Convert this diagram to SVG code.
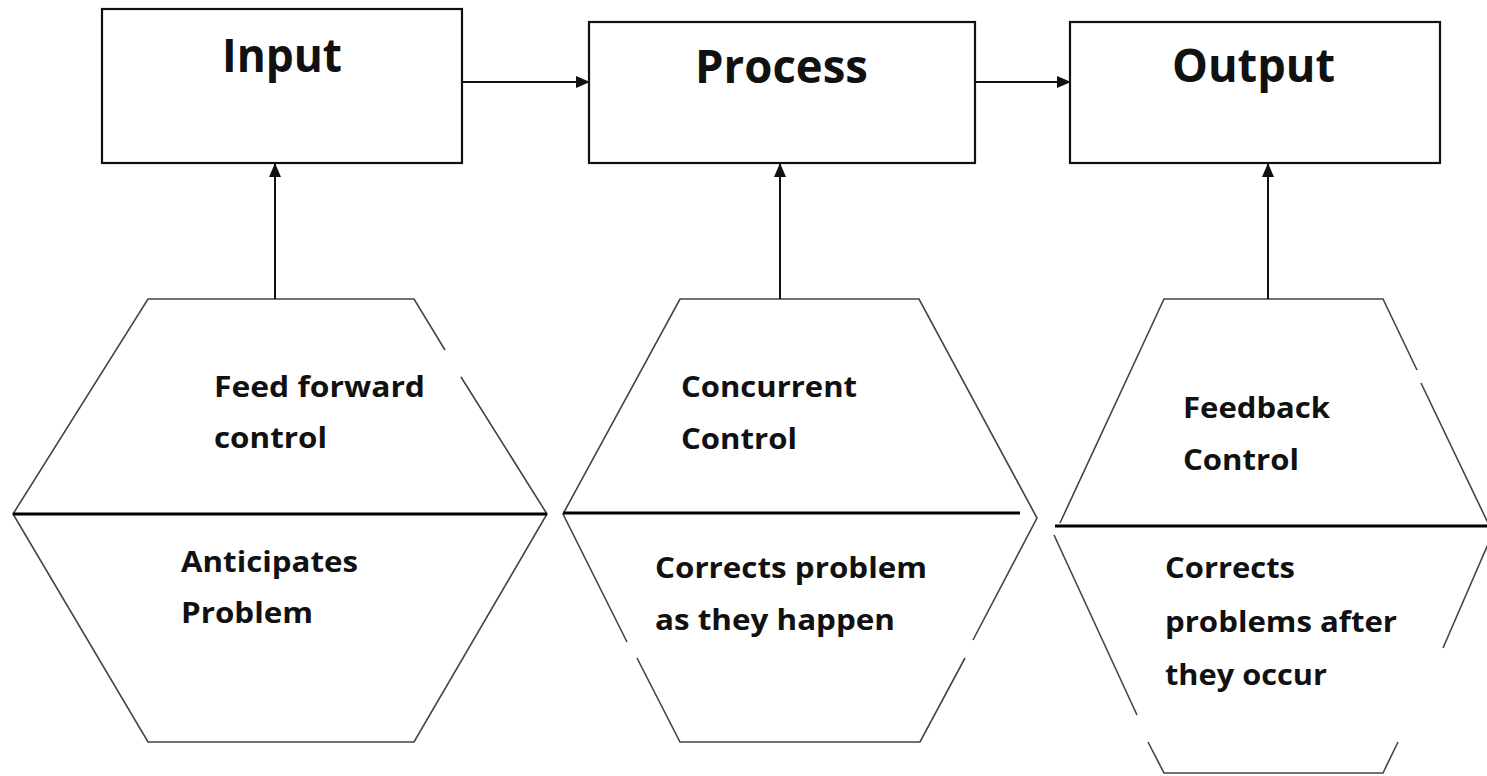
<svg xmlns="http://www.w3.org/2000/svg" width="1487" height="776" viewBox="0 0 1487 776">
<style>
.box{fill:#fff;stroke:#111;stroke-width:2.2}
.hex{fill:none;stroke:#444;stroke-width:1.6}
.mid{stroke:#000;stroke-width:3.2}
.conn{stroke:#111;stroke-width:2;fill:none}
.title{font-family:"Open Sans","Liberation Sans",sans-serif;font-weight:700;font-size:46px;fill:#111}
.lbl{font-family:"Open Sans","Liberation Sans",sans-serif;font-weight:700;font-size:28px;fill:#111}
</style>
<defs>
<marker id="ah" markerWidth="14" markerHeight="12" refX="13" refY="6" orient="auto" markerUnits="userSpaceOnUse">
<path d="M0,0 L14,6 L0,12 Z" fill="#111"/>
</marker>
</defs>
<rect width="1487" height="776" fill="#fff"/>

<g id="input">
<rect class="box" x="102" y="9" width="360" height="154"/>
<text class="title" x="222" y="72" textLength="120" lengthAdjust="spacingAndGlyphs">Input</text>
</g>
<g id="process">
<rect class="box" x="589" y="22" width="386" height="141"/>
<text class="title" x="695" y="83" textLength="173" lengthAdjust="spacingAndGlyphs">Process</text>
</g>
<g id="output">
<rect class="box" x="1070" y="22" width="370" height="141"/>
<text class="title" x="1172" y="82" textLength="163" lengthAdjust="spacingAndGlyphs">Output</text>
</g>

<g id="feedforward">
<path class="hex" d="M445,350 L414,299 L148,299 L13,514 L148,742 L414,742 L547,514 L461,377"/>
<line class="mid" x1="13" y1="514" x2="547" y2="514"/>
<text class="lbl" x="214" y="397" textLength="211" lengthAdjust="spacingAndGlyphs">Feed forward</text>
<text class="lbl" x="214" y="448" textLength="113" lengthAdjust="spacingAndGlyphs">control</text>
<text class="lbl" x="181" y="572" textLength="177" lengthAdjust="spacingAndGlyphs">Anticipates</text>
<text class="lbl" x="181" y="623" textLength="132" lengthAdjust="spacingAndGlyphs">Problem</text>
</g>

<g id="concurrent">
<path class="hex" d="M627,642 L563,514 L680,299 L919,299 L1037,518 L973,640 M965,658 L920,742 L680,742 L637,658"/>
<line class="mid" x1="563" y1="513" x2="1020" y2="513"/>
<text class="lbl" x="681" y="397" textLength="176" lengthAdjust="spacingAndGlyphs">Concurrent</text>
<text class="lbl" x="681" y="449" textLength="116" lengthAdjust="spacingAndGlyphs">Control</text>
<text class="lbl" x="655" y="578" textLength="272" lengthAdjust="spacingAndGlyphs">Corrects problem</text>
<text class="lbl" x="655" y="630" textLength="240" lengthAdjust="spacingAndGlyphs">as they happen</text>
</g>

<g id="feedback">
<path class="hex" d="M1417,370 L1383,299 L1164,299 L1060,523"/>
<path class="hex" d="M1421,383 L1488,523"/>
<path class="hex" d="M1137,715 L1054,535"/>
<path class="hex" d="M1492,535 L1443,648"/>
<path class="hex" d="M1148,742 L1164,773 L1383,773 L1398,742"/>
<line class="mid" x1="1055" y1="526" x2="1487" y2="526"/>
<text class="lbl" x="1183" y="418" textLength="147" lengthAdjust="spacingAndGlyphs">Feedback</text>
<text class="lbl" x="1183" y="470" textLength="116" lengthAdjust="spacingAndGlyphs">Control</text>
<text class="lbl" x="1165" y="578" textLength="130" lengthAdjust="spacingAndGlyphs">Corrects</text>
<text class="lbl" x="1165" y="632" textLength="232" lengthAdjust="spacingAndGlyphs">problems after</text>
<text class="lbl" x="1165" y="685" textLength="162" lengthAdjust="spacingAndGlyphs">they occur</text>
</g>

<g id="connectors">
<line class="conn" x1="462" y1="82" x2="589" y2="82" marker-end="url(#ah)"/>
<line class="conn" x1="975" y1="82" x2="1070" y2="82" marker-end="url(#ah)"/>
<line class="conn" x1="275" y1="299" x2="275" y2="164" marker-end="url(#ah)"/>
<line class="conn" x1="780" y1="299" x2="780" y2="164" marker-end="url(#ah)"/>
<line class="conn" x1="1268" y1="299" x2="1268" y2="164" marker-end="url(#ah)"/>
</g>
</svg>
